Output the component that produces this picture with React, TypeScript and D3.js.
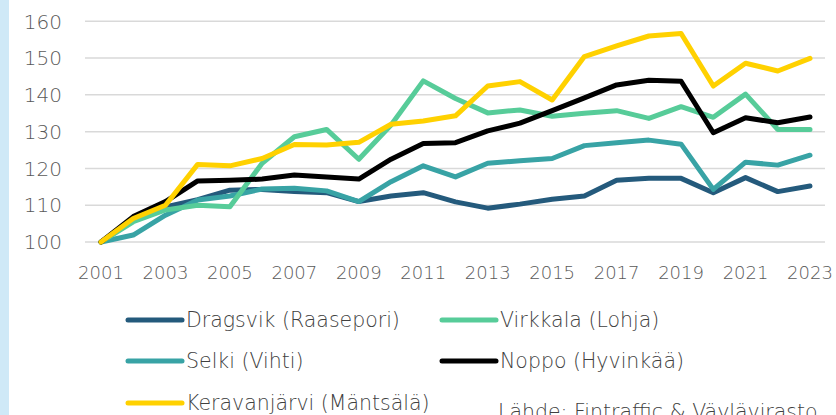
import React from 'react';
import * as d3 from 'd3';

const years = d3.range(2001, 2024);
const yTicks = [100, 110, 120, 130, 140, 150, 160];
const xTickYears = [2001, 2003, 2005, 2007, 2009, 2011, 2013, 2015, 2017, 2019, 2021, 2023];

const dragsvik = [100, 106, 109.5, 111.5, 114.1, 114.3, 113.7, 113.4, 111, 112.5, 113.4, 110.9, 109.2, 110.3, 111.6, 112.5, 116.8, 117.3, 117.3, 113.4, 117.5, 113.7, 115.2];
const virkkala = [100, 105.5, 108.7, 110, 109.6, 121.4, 128.6, 130.6, 122.5, 131.8, 143.8, 139, 135.1, 135.9, 134.2, 135, 135.7, 133.6, 136.8, 133.9, 140.2, 130.6, 130.6];
const selki = [100, 101.9, 107.3, 111.4, 112.5, 114.4, 114.6, 113.9, 111, 116.4, 120.7, 117.7, 121.4, 122.1, 122.7, 126.2, 127, 127.7, 126.6, 114.3, 121.7, 120.9, 123.6];
const noppo = [100, 106.9, 111, 116.6, 116.8, 117.1, 118.2, 117.7, 117.1, 122.5, 126.8, 127, 130.2, 132.3, 135.7, 139.2, 142.7, 144, 143.7, 129.7, 133.8, 132.4, 134];
const keravanjarvi = [100, 106.4, 110, 121.1, 120.7, 122.7, 126.5, 126.4, 127.1, 132, 132.9, 134.3, 142.4, 143.6, 138.6, 150.4, 153.3, 156, 156.7, 142.4, 148.6, 146.5, 149.9];

const series = [
  { name: 'Dragsvik (Raasepori)', values: dragsvik, color: '#245a7c' },
  { name: 'Virkkala (Lohja)', values: virkkala, color: '#57cc99' },
  { name: 'Selki (Vihti)', values: selki, color: '#38a3a5' },
  { name: 'Noppo (Hyvinkää)', values: noppo, color: '#000000' },
  { name: 'Keravanjärvi (Mäntsälä)', values: keravanjarvi, color: '#ffd100' },
];

// drawing order: back to front
const drawOrder = [0, 2, 1, 3, 4];

const W = 836;
const H = 415;
const font = "'DejaVu Sans', sans-serif";

export default function App() {
  const x = d3.scaleLinear().domain([2001, 2023]).range([101, 810]);
  const y = d3.scaleLinear().domain([100, 160]).range([242, 21.3]);

  const line = d3.line<number>()
    .x((_, i) => x(years[i]))
    .y(d => y(d));

  const legendPos = [
    { x: 128, y: 320 },
    { x: 442, y: 320 },
    { x: 128, y: 361 },
    { x: 442, y: 361 },
    { x: 128, y: 403 },
  ];

  return (
    <svg width={W} height={H} style={{ position: 'absolute', left: 0, top: 0, background: '#fff' }}>
      {/* map strip on the left edge */}
      <rect x={0} y={0} width={9} height={H} fill="#cfe9f7" />

      {yTicks.map(t => (
        <g key={t}>
          <line x1={85} x2={825} y1={y(t)} y2={y(t)} stroke="#d9d9d9" strokeWidth={1.5} />
          <text x={62} y={y(t)} dy="0.36em" textAnchor="end" fontFamily={font} fontWeight={200} fontSize={20} fill="#595959">{t}</text>
        </g>
      ))}

      {xTickYears.map(t => (
        <text key={t} x={x(t)} y={279} textAnchor="middle" fontFamily={font} fontWeight={200} fontSize={18} fill="#595959">{t}</text>
      ))}

      {drawOrder.map(i => (
        <path key={series[i].name} d={line(series[i].values) || ''} fill="none" stroke={series[i].color} strokeWidth={5} strokeLinejoin="round" strokeLinecap="round" />
      ))}

      {series.map((s, i) => (
        <g key={s.name} transform={`translate(${legendPos[i].x},${legendPos[i].y})`}>
          <line x1={0} x2={54} y1={0} y2={0} stroke={s.color} strokeWidth={5} strokeLinecap="round" />
          <text x={58} y={0} dy="0.36em" fontFamily={font} fontWeight={200} fontSize={20.5} fill="#404040">{s.name}</text>
        </g>
      ))}

      <text x={498} y={419} fontFamily={font} fontWeight={200} fontSize={20.5} fill="#404040">Lähde: Fintraffic &amp; Väylävirasto</text>
    </svg>
  );
}
